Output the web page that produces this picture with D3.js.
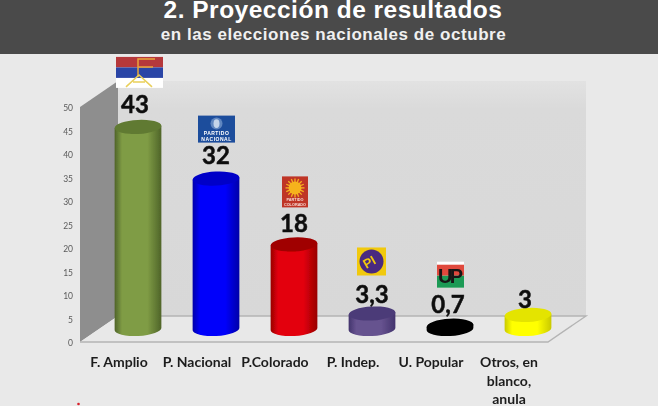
<!DOCTYPE html>
<html>
<head>
<meta charset="utf-8">
<script src="https://cdnjs.cloudflare.com/ajax/libs/d3/7.8.5/d3.min.js"></script>
<style>
  html, body { margin: 0; padding: 0; background: #e9e9e9; }
  svg { display: block; }
  .tick text { font-family: Lato, sans-serif; }
</style>
</head>
<body>
<div id="chart"></div>
<script>
const categories = ['F. Amplio', 'P. Nacional', 'P.Colorado', 'P. Indep.', 'U. Popular', 'Otros, en blanco, anula'];
const values = [43, 32, 18, 3.3, 0.7, 3];
const valueLabels = ['43', '32', '18', '3,3', '0,7', '3'];
const yTicks = [0, 5, 10, 15, 20, 25, 30, 35, 40, 45, 50];

//** colours per bar: edge, centre, top
const barColors = [
  ['#4f6429', '#7f9c45', '#617a33'],
  ['#0000a8', '#0000fb', '#0000c8'],
  ['#980000', '#e3000c', '#a00000'],
  ['#43346d', '#66528f', '#4c3b78'],
  ['#000000', '#000000', '#000000'],
  ['#c9c900', '#ffff00', '#e4e400']
];

const W = 658, H = 406;
const depthX = 38, depthY = 26;
const ry = 7, tilt = -3;

const svg = d3.select('#chart').append('svg').attr('width', W).attr('height', H);
const defs = svg.append('defs');
defs.append('filter').attr('id', 'soft')
  .append('feGaussianBlur').attr('stdDeviation', 0.5);

//** scales. axis sits on the front of the floor, bars in the middle of its depth
const y = d3.scaleLinear().domain([0, 50]).range([342, 107]);
const xFront = d3.scaleBand().domain(categories).range([80, 548]);
const x = d3.scaleBand().domain(categories)
  .range([80 + depthX / 2, 548 + depthX / 2])
  .paddingInner(0.4).paddingOuter(0.2);
const barY = v => y(v) - depthY / 2;

svg.append('rect').attr('width', W).attr('height', H).attr('fill', '#e9e9e9');

const g = svg.append('g').attr('filter', 'url(#soft)');

//** room: back wall, left wall, floor
const x0 = xFront.range()[0], x1 = xFront.range()[1];
const y0 = y(0), y50 = y(50);

const wallGrad = defs.append('linearGradient').attr('id', 'wallGrad')
  .attr('x1', 0).attr('y1', 0).attr('x2', 0).attr('y2', 1);
wallGrad.append('stop').attr('offset', 0).attr('stop-color', '#e2e2e2');
wallGrad.append('stop').attr('offset', 0.12).attr('stop-color', '#dadada');
wallGrad.append('stop').attr('offset', 1).attr('stop-color', '#d8d8d8');

g.append('rect')
  .attr('x', x0 + depthX).attr('y', y50 - depthY)
  .attr('width', x1 - x0).attr('height', y0 - y50)
  .attr('fill', 'url(#wallGrad)');
g.append('path')
  .attr('d', d3.line()([[x0, y0], [x0, y50], [x0 + depthX, y50 - depthY], [x0 + depthX, y0 - depthY]]))
  .attr('fill', '#8e8e8e');
g.append('path')
  .attr('d', d3.line()([[x0, y0], [x1, y0], [x1 + depthX, y0 - depthY], [x0 + depthX, y0 - depthY]]) + 'Z')
  .attr('fill', '#e8e8e8');
g.append('path')
  .attr('d', d3.line()([[x0, y0], [x1, y0], [x1 + depthX, y0 - depthY], [x0 + depthX, y0 - depthY]]))
  .attr('fill', 'none').attr('stroke', '#b4b4b4').attr('stroke-width', 1.4);

//** y axis
const yAxis = d3.axisLeft(y).tickValues(yTicks).tickSize(0).tickPadding(7);
const gy = g.append('g').attr('transform', 'translate(' + x0 + ',1)').call(yAxis);
gy.select('.domain').remove();
gy.selectAll('text').attr('font-size', 8.5).attr('fill', '#5a5a5a');

//** x axis
const xAxis = d3.axisBottom(xFront).tickSize(0).tickPadding(0);
const gx = g.append('g').attr('transform', 'translate(0,' + y0 + ')').call(xAxis);
gx.select('.domain').remove();
gx.selectAll('text')
  .attr('font-size', 14).attr('font-weight', 700).attr('fill', '#1c1c1c')
  .each(function(d) {
    const t = d3.select(this).text(null).attr('y', 0).attr('dy', null);
    const lines = d.indexOf('Otros') === 0 ? ['Otros, en', 'blanco,', 'anula'] : [d];
    lines.forEach((l, i) => {
      t.append('tspan').attr('x', 0).attr('y', 25 + i * 18.5).text(l);
    });
  });

//** cylinders
const rad = tilt * Math.PI / 180;
const bars = g.selectAll('.bar').data(categories).enter().append('g').attr('class', 'bar');

bars.each(function(c, i) {
  const rx = x.bandwidth() / 2;
  const cx = x(c) + rx;
  const yb = barY(0), yt = barY(values[i]);
  const dx = rx * Math.cos(rad), dy = rx * Math.sin(rad);
  const cols = barColors[i];

  const grad = defs.append('linearGradient').attr('id', 'bar' + i);
  grad.append('stop').attr('offset', 0).attr('stop-color', cols[0]);
  grad.append('stop').attr('offset', 0.16).attr('stop-color', cols[1]);
  grad.append('stop').attr('offset', 0.7).attr('stop-color', cols[1]);
  grad.append('stop').attr('offset', 1).attr('stop-color', cols[0]);

  const bar = d3.select(this);
  bar.append('path')
    .attr('d', 'M' + (cx - dx) + ',' + (yt - dy)
      + 'L' + (cx - dx) + ',' + (yb - dy)
      + 'A' + rx + ',' + ry + ' ' + tilt + ' 0 0 ' + (cx + dx) + ',' + (yb + dy)
      + 'L' + (cx + dx) + ',' + (yt + dy) + 'Z')
    .attr('fill', 'url(#bar' + i + ')');
  bar.append('ellipse')
    .attr('cx', cx).attr('cy', yt).attr('rx', rx).attr('ry', ry)
    .attr('transform', 'rotate(' + tilt + ' ' + cx + ' ' + yt + ')')
    .attr('fill', cols[2]);
});

//** value labels
const labelShift = [[-3, -22], [0, -23], [0, -21], [0, -19], [-2, -21], [-3, -15]];
g.selectAll('.val').data(categories).enter().append('text')
  .attr('class', 'val')
  .attr('x', (c, i) => x(c) + x.bandwidth() / 2 + labelShift[i][0])
  .attr('y', (c, i) => barY(values[i]) + labelShift[i][1])
  .attr('dy', '0.35em')
  .attr('text-anchor', 'middle')
  .attr('font-family', 'Lato, sans-serif').attr('font-weight', 700).attr('font-size', 24)
  .attr('fill', '#111').attr('stroke', '#111').attr('stroke-width', 0.5)
  .text((c, i) => valueLabels[i]);

//** party logos, placed from the top of their bar
function logoAt(i, dx, dy) {
  const cx = x(categories[i]) + x.bandwidth() / 2;
  return g.append('g').attr('transform', 'translate(' + (cx + dx) + ',' + (barY(values[i]) + dy) + ')');
}

//** Frente Amplio flag
const fa = logoAt(0, -22, -70);
fa.append('rect').attr('width', 47).attr('height', 31).attr('fill', '#fff');
fa.append('rect').attr('width', 47).attr('height', 10.5).attr('fill', '#b5373a');
fa.append('rect').attr('y', 10.5).attr('width', 47).attr('height', 10.5).attr('fill', '#2c44a6');
fa.append('path').attr('d', 'M22,20V2H39M22,10H37').attr('fill', 'none').attr('stroke', '#e9a63b').attr('stroke-width', 1.5);
fa.append('path').attr('d', 'M10,30L23,18L36,30M17,25H29').attr('fill', 'none').attr('stroke', '#e9cf5a').attr('stroke-width', 1.5);

//** Partido Nacional
const pn = logoAt(1, -18, -63);
pn.append('rect').attr('width', 37).attr('height', 27).attr('fill', '#1e4d9c');
pn.append('circle').attr('cx', 18.5).attr('cy', 8).attr('r', 6).attr('fill', '#5f86c0');
pn.append('ellipse').attr('cx', 18.5).attr('cy', 8).attr('rx', 3).attr('ry', 4.4).attr('fill', '#c4d4ea');
pn.append('text').attr('x', 18.5).attr('y', 19.3).attr('text-anchor', 'middle')
  .attr('font-family', 'Liberation Sans').attr('font-weight', 700).attr('font-size', 5).attr('letter-spacing', 0.5).attr('fill', '#fff').text('PARTIDO');
pn.append('text').attr('x', 18.5).attr('y', 25.6).attr('text-anchor', 'middle')
  .attr('font-family', 'Liberation Sans').attr('font-weight', 700).attr('font-size', 5).attr('letter-spacing', 0.5).attr('fill', '#fff').text('NACIONAL');

//** Partido Colorado
const pc = logoAt(2, -12, -68);
pc.append('rect').attr('width', 26).attr('height', 31).attr('fill', '#bf3428');
d3.range(16).forEach(k => {
  const a = k * Math.PI / 8;
  pc.append('line')
    .attr('x1', 13).attr('y1', 11.5)
    .attr('x2', 13 + 9.5 * Math.cos(a)).attr('y2', 11.5 + 9.5 * Math.sin(a))
    .attr('stroke', '#f6b21e').attr('stroke-width', 1.3);
});
pc.append('circle').attr('cx', 13).attr('cy', 11.5).attr('r', 6.5).attr('fill', '#f6b21e');
pc.append('text').attr('x', 13).attr('y', 25).attr('text-anchor', 'middle')
  .attr('font-family', 'Liberation Sans').attr('font-weight', 700).attr('font-size', 3.8).attr('fill', '#f7dcd3').text('PARTIDO');
pc.append('text').attr('x', 13).attr('y', 29.5).attr('text-anchor', 'middle')
  .attr('font-family', 'Liberation Sans').attr('font-weight', 700).attr('font-size', 3.8).attr('fill', '#f7dcd3').text('COLORADO');

//** Partido Independiente
const pi = logoAt(3, -15, -66);
pi.append('rect').attr('width', 29).attr('height', 28).attr('fill', '#f1c90a');
pi.append('circle').attr('cx', 14.5).attr('cy', 14).attr('r', 12).attr('fill', '#4a2a80');
pi.append('text').attr('transform', 'translate(14.5,18.5) rotate(-30)').attr('text-anchor', 'middle')
  .attr('font-family', 'Liberation Sans').attr('font-weight', 700).attr('font-size', 13).attr('fill', '#f1c90a').text('PI');

//** Unidad Popular
const up = logoAt(4, -13, -64);
up.append('rect').attr('width', 27).attr('height', 26).attr('fill', '#fff');
up.append('rect').attr('y', 3).attr('width', 27).attr('height', 11).attr('fill', '#e0483c');
up.append('rect').attr('y', 14).attr('width', 27).attr('height', 12).attr('fill', '#1f9a55');
up.append('text').attr('x', 13.5).attr('y', 21).attr('text-anchor', 'middle').attr('textLength', 25)
  .attr('font-family', 'Liberation Sans').attr('font-weight', 700).attr('font-size', 20).attr('fill', '#141414').text('UP');

//** stray red mark at the bottom edge
g.append('circle').attr('cx', 78.5).attr('cy', 404).attr('r', 1.3).attr('fill', '#d8202a');

//** header band
svg.append('rect').attr('width', W).attr('height', 54).attr('fill', '#4a4a4a');
svg.append('text')
  .attr('x', 333).attr('y', 18)
  .attr('text-anchor', 'middle')
  .attr('font-family', '"Liberation Sans", sans-serif').attr('font-weight', 700)
  .attr('font-size', 24.5).attr('letter-spacing', 0.5).attr('fill', '#fff')
  .text('2. Proyección de resultados');
svg.append('text')
  .attr('x', 333.5).attr('y', 40)
  .attr('text-anchor', 'middle')
  .attr('font-family', '"Liberation Sans", sans-serif').attr('font-weight', 700)
  .attr('font-size', 17).attr('letter-spacing', 0.55).attr('fill', '#f0f0f0')
  .text('en las elecciones nacionales de octubre');
</script>
</body>
</html>
